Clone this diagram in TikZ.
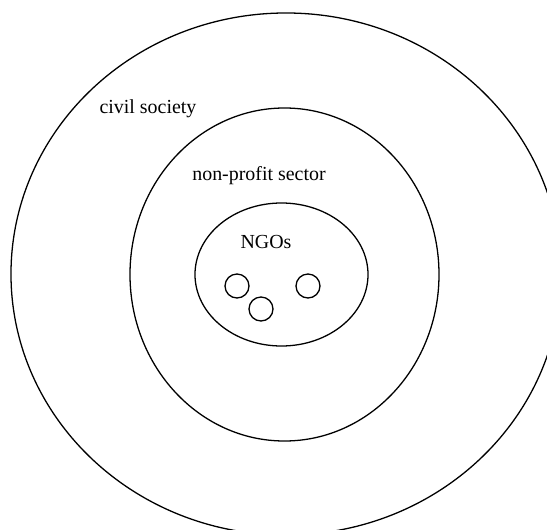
\documentclass[tikz,border=0pt]{standalone}
\usepackage{fontspec}
\setmainfont{Liberation Serif}
\usepackage{tikz}
\usetikzlibrary{shapes.geometric}

\begin{document}
\begin{tikzpicture}[x=0.03cm,y=-0.03cm,
  every node/.style={color=black,font=\fontsize{17}{20}\selectfont},
  region/.style={draw,ellipse,line width=1.1pt,inner sep=0pt},
  member/.style={draw,circle,line width=1.1pt,inner sep=0pt,minimum size=0.72cm}]
\useasboundingbox (0,0) rectangle (547,530);
\clip (0,0) rectangle (547,530);
\node[region,minimum width=16.5cm,minimum height=15.66cm](civil) at (286, 274) {};
\node[region,minimum width=9.27cm,minimum height=9.99cm](sector) at (284.5, 274.5) {};
\node[region,minimum width=5.19cm,minimum height=4.29cm](ngos) at (281.5, 274.5) {};

\node(civillabel) at (148, 109) {civil society};
\node(sectorlabel) at (259, 176) {non-profit sector};
\node(ngoslabel) at (266, 242) {NGOs};

\node[member](m1) at (237, 286) {};
\node[member](m2) at (261, 309) {};
\node[member](m3) at (308, 286) {};
\end{tikzpicture}
\end{document}
